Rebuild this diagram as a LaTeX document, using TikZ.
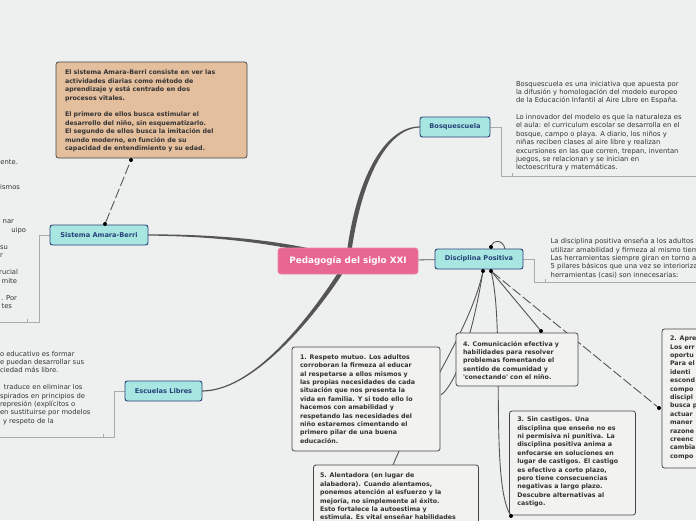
\documentclass[tikz,border=0pt]{standalone}
\usepackage{fontspec}
\setmainfont{DejaVu Sans}
\usetikzlibrary{calc}
\pgfdeclarelayer{back}
\pgfsetlayers{back,main}
\definecolor{bgc}{RGB}{238,240,239}
\definecolor{pinkn}{RGB}{232,102,146}
\definecolor{cyann}{RGB}{168,230,226}
\definecolor{navy}{RGB}{38,66,120}
\definecolor{tanc}{RGB}{228,191,158}
\definecolor{boxf}{RGB}{242,242,240}
\definecolor{boxl}{RGB}{70,70,70}
\definecolor{conn}{RGB}{85,85,85}
\definecolor{txt}{RGB}{51,51,51}
\definecolor{brk}{RGB}{170,172,172}
\begin{document}
\begin{tikzpicture}[x=1pt,y=-1pt,
  every node/.style={inner sep=0pt, outer sep=0pt},
  topic/.style={draw=navy, fill=cyann, rounded corners=2.5pt, line width=0.9pt, text=navy, font=\fontsize{6.6}{8}\selectfont\bfseries},
  wbox/.style={draw=boxl, fill=boxf, rounded corners=2.5pt, line width=0.8pt, anchor=north west},
  btext/.style={anchor=north west, align=left, text=txt, font=\fontsize{6.3}{8.4}\selectfont\bfseries},
  ntext/.style={anchor=north west, align=left, text=txt, font=\fontsize{6.8}{8.4}\selectfont},
  frag/.style={anchor=base east, text=txt, font=\fontsize{6.8}{8.4}\selectfont},
  link/.style={draw=conn, line width=0.9pt},
  dlink/.style={draw=conn, line width=0.9pt, dash pattern=on 10pt off 3pt},
  dotn/.style={circle, fill=black, minimum size=4pt},
  bracket/.style={draw=brk, line width=0.8pt},
]
\clip (0,0) rectangle (696,520);
\begin{pgfonlayer}{back}
\fill[bgc] (0,0) rectangle (696,520);
\end{pgfonlayer}

% main nodes
\node[draw=pinkn!80!white, fill=pinkn, rounded corners=3pt, line width=0.8pt, minimum width=140, minimum height=26, text=white, font=\fontsize{8.8}{10}\selectfont\bfseries] (ped) at (348,261) {Pedagogía del siglo XXI};
\node[topic, minimum width=88, minimum height=20] (disc) at (479,259) {Disciplina Positiva};
\node[topic, minimum width=70, minimum height=20] (bosq) at (455,127) {Bosquescuela};
\node[topic, minimum width=98, minimum height=20] (sist) at (99,235) {Sistema Amara-Berri};
\node[topic, minimum width=77, minimum height=20] (escu) at (163.5,391) {Escuelas Libres};

% boxes
\node[wbox, fill=tanc, minimum width=191, minimum height=96] (ob) at (56,62) {};
\node[btext] (obt) at (65,70.2) {El sistema Amara-Berri consiste en ver las\\actividades diarias como método de\\aprendizaje y está centrado en dos\\procesos vitales.\\[8.4pt]El primero de ellos busca estimular el\\desarrollo del niño, sin esquematizarlo.\\El segundo de ellos busca la imitación del\\mundo moderno, en función de su\\capacidad de entendimiento y su edad.};

\node[wbox, minimum width=148, minimum height=104] (b1) at (292,347) {};
\node[btext] (b1t) at (300,354.6) {1. Respeto mutuo. Los adultos\\corroboran la firmeza al educar\\al respetarse a ellos mismos y\\las propias necesidades de cada\\situación que nos presenta la\\vida en familia. Y si todo ello lo\\hacemos con amabilidad y\\respetando las necesidades del\\niño estaremos cimentando el\\primero pilar de una buena\\educación.};

\node[wbox, minimum width=122, minimum height=53] (b4) at (456,333) {};
\node[btext] (b4t) at (463,341) {4. Comunicación efectiva y\\habilidades para resolver\\problemas fomentando el\\sentido de comunidad y\\\textquotesingle conectando\textquotesingle{} con el niño.};

\node[wbox, minimum width=126, minimum height=104] (b3) at (509.5,411) {};
\node[btext] (b3t) at (517.3,417) {3. Sin castigos. Una\\disciplina que enseñe no es\\ni permisiva ni punitiva. La\\disciplina positiva anima a\\enfocarse en soluciones en\\lugar de castigos. El castigo\\es efectivo a corto plazo,\\pero tiene consecuencias\\negativas a largo plazo.\\Descubre alternativas al\\castigo.};

\node[wbox, minimum width=165, minimum height=70] (b5) at (313.5,465) {};
\node[btext] (b5t) at (320,473.2) {5. Alentadora (en lugar de\\alabadora). Cuando alentamos,\\ponemos atención al esfuerzo y la\\mejoría, no simplemente al éxito.\\Esto fortalece la autoestima y\\estimula. Es vital enseñar habilidades};

\node[wbox, minimum width=60, minimum height=139] (b2) at (662,329) {};
\node[btext] (b2t) at (670,336) {2. Apre\\Los err\\oportu\\Para el\\identi\\escond\\compo\\discipl\\busca p\\actuar\\maner\\razone\\creenc\\cambia\\compo};

% notes
\node[ntext] (bosqt) at (516,81) {Bosquescuela es una iniciativa que apuesta por\\la difusión y homologación del modelo europeo\\de la Educación Infantil al Aire Libre en España.\\[8.2pt]Lo innovador del modelo es que la naturaleza es\\el aula: el curriculum escolar se desarrolla en el\\bosque, campo o playa. A diario, los niños y\\niñas reciben clases al aire libre y realizan\\excursiones en las que corren, trepan, inventan\\juegos, se relacionan y se inician en\\lectoescritura y matemáticas.};

\node[ntext] (disct) at (550.7,238.4) {La disciplina positiva enseña a los adultos\\utilizar amabilidad y firmeza al mismo tiem\\Las herramientas siempre giran en torno a\\5 pilares básicos que una vez se interioriza\\herramientas (casi) son innecesarias:};

\node[ntext] (escut) at (0,351) {o educativo es formar\\e puedan desarrollar sus\\ciedad más libre.\\[8.3pt]\hspace*{4pt}traduce en eliminar los\\spirados en principios de\\represión (explícitos o\\en sustituirse por modelos\\\hspace*{3pt}y respeto de la};

\node[frag] (f1) at (18,164) {ente.};
\node[frag] (f2) at (20,189.5) {ismos};
\node[frag] (f3) at (14,223.5) {nar};
\node[frag] (f4) at (26,232) {uipo};
\node[frag] (f5) at (8,249) {su};
\node[frag] (f6) at (3,257.5) {r};
\node[frag] (f7) at (18,274.5) {rucial};
\node[frag] (f8) at (17,283) {mite};
\node[frag] (f9) at (17,300) {. Por};
\node[frag] (f10) at (12,308.5) {tes};

% dots
\node[dotn] (sd1) at (105,224) {};
\node[dotn] (sd2) at (131,160) {};
\node[dotn] (dd1) at (483,271) {};
\node[dotn] (dd2) at (491,271) {};
\node[dotn] (dd3) at (491,247) {};
\node[dotn] (e4) at (541,331) {};
\node[dotn] (e2) at (659,408) {};
\node[dotn] (e3) at (511,516) {};

\coordinate (e5) at (393,465);
\coordinate (e1) at (441,395);
\coordinate (lp) at (505,249);

\begin{pgfonlayer}{back}
% brackets
\draw[bracket] (sist.west) -- (39,235) -- (39,322) -- (0,322);
\draw[bracket] (27,322) -- (27,319);
\draw[bracket] (escu.west) -- (114,391) -- (114,437) -- (0,437);
\draw[bracket] (103,437) -- (103,434);
\draw[bracket] (bosq.east) -- (501,127) -- (501,176) -- (696,176);
\draw[bracket] (512,176) -- (512,173);
\draw[bracket] (disc.east) -- (534,259) -- (534,282) -- (696,282);
\draw[bracket] (545,282) -- (545,279);
% tapered main branches
\fill[conn] ($(ped.center)+(-2.2,0)$) .. controls (355.5,175) and (386,126.2) .. ($(bosq.west)+(0,-0.6)$) -- ($(bosq.west)+(0,0.6)$) .. controls (388.5,127.8) and (360.5,176) .. ($(ped.center)+(2.2,0)$) -- cycle;
\fill[conn] ($(sist.east)+(0,-0.6)$) .. controls (230,234) and (301,243) .. ($(ped.center)+(0.8,-2.2)$) -- ($(ped.center)+(-0.8,2.2)$) .. controls (299,247) and (230,236.3) .. ($(sist.east)+(0,0.6)$) -- cycle;
\fill[conn] ($(escu.east)+(0,-0.6)$) .. controls (258.5,390.4) and (320.5,302) .. ($(ped.center)+(-1.9,-1.2)$) -- ($(ped.center)+(1.9,1.2)$) .. controls (323.5,305.5) and (257.5,391.6) .. ($(escu.east)+(0,0.6)$) -- cycle;
\draw[conn, line width=0.8pt] (ped) -- (disc);
% links
\draw[dlink] (sd1) -- (sd2);
\draw[link] (dd1) .. controls (470,330) and (420,400) .. (e5);
\draw[link] (dd1) .. controls (475,320) and (460,380) .. (e1);
\draw[link] (dd2) -- (e4);
\draw[link] (dd2) .. controls (505,330) and (490,480) .. (e3);
\draw[dlink] (dd2) -- (e2);
\draw[link] (dd3) .. controls (493,240) and (503,239) .. (lp);
\end{pgfonlayer}
\end{tikzpicture}
\end{document}
